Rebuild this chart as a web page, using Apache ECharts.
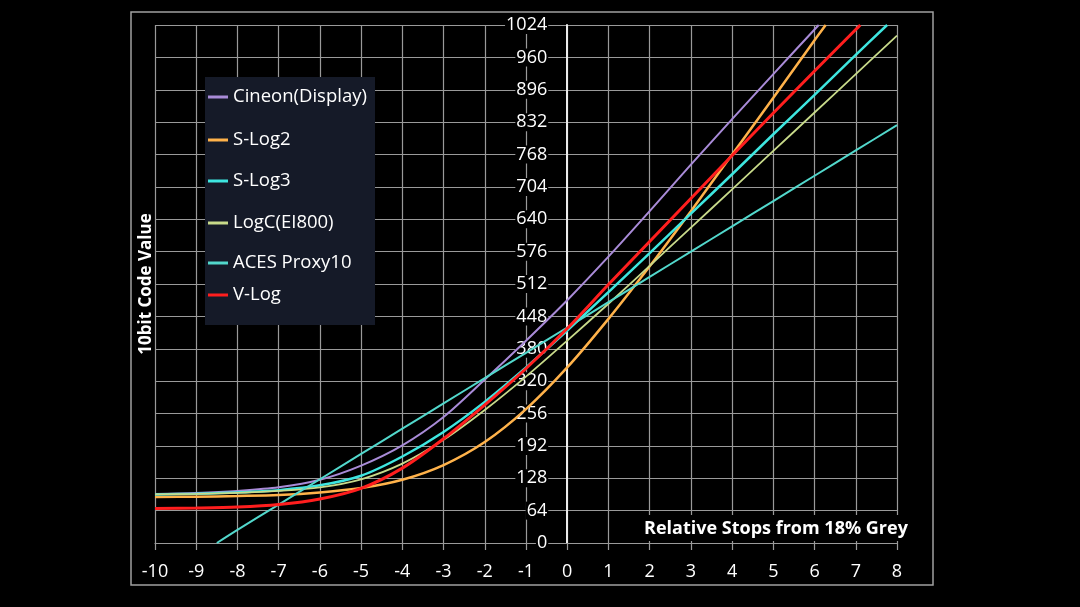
<!DOCTYPE html>
<html>
<head>
<meta charset="utf-8">
<style>
  html, body { margin: 0; padding: 0; background: #000; }
  #chart { width: 1080px; height: 607px; }
</style>
<script src="https://cdn.jsdelivr.net/npm/echarts@6/dist/echarts.min.js"></script>
</head>
<body>
<div id="chart"></div>
<script>
// stops relative to 18% grey
const stops = [-10, -9, -8, -7, -6, -5, -4, -3, -2, -1, 0, 1, 2, 3, 4, 5, 6, 7, 8];
const yLabels = ["0", "64", "128", "192", "256", "320", "380", "448", "512", "576", "640", "704", "768", "832", "896", "960", "1024"];

const names = ["Cineon(Display)", "S-Log2", "S-Log3", "LogC(EI800)", "ACES Proxy10", "V-Log"];

// 10bit code values per stop (null = not drawn there)
const cineon = [97, 99, 103, 110, 125, 153, 193, 249, 323, 400, 480, 566, 656, 748, 838, 927, 1015];
const cineonTop = [6.1, 1024];
const slog2 = [91, 91.5, 93, 95, 100, 108.6, 125, 154, 199.5, 264.6, 347, 443, 547, 656, 768, 880, 994];
const slog2Top = [6.27, 1024];
const slog3 = [96, 97.5, 100, 104.5, 114, 133, 171, 219.5, 279, 347, 420, 496, 573, 651, 729, 808, 886, 965];
const slog3Top = [7.76, 1024];
const logc = [96, 97, 99, 103, 110, 126, 157, 204, 263, 329, 400, 473, 548, 623.5, 699, 775, 851, 927, 1003];
const aces = [null, null, 26, 76, 126, 176, 226, 276, 326, 376, 426, 476, 526, 576, 626, 676, 726, 776, 826];
const acesStart = [-8.5, 0];
const vlog = [68, 69, 71, 76, 87, 108, 148, 206, 273, 345, 424, 511, 596, 681, 766, 850, 933, 1015];
const vlogTop = [7.11, 1024];

const colors = ["#a98bd8", "#ffb24a", "#3ee6e0", "#c8da8a", "#52d8cc", "#ff1e1e"];
const widths = [2, 2.5, 2.5, 1.8, 2, 3];
const legendTops = [97, 140, 181, 223, 263, 295];

function pts(vals, topPt, startPt) {
  const d = [];
  if (startPt) d.push(startPt);
  vals.forEach((v, i) => {
    if (v !== null) d.push([stops[i], v]);
  });
  if (topPt) d.push(topPt);
  return d;
}

const seriesData = [
  pts(cineon, cineonTop),
  pts(slog2, slog2Top),
  pts(slog3, slog3Top),
  pts(logc),
  pts(aces, null, acesStart),
  pts(vlog, vlogTop)
];

const font = "'Open Sans', 'Noto Sans', sans-serif";
const gridColor = "#9a9a9a";

// plot area
const gridLeft = 155, gridRight = 183, gridTop = 25, gridBottom = 64;
const plotW = 1080 - gridLeft - gridRight;
// y axis sits on stop 0
const zeroX = plotW * (0 - stops[0]) / (stops[stops.length - 1] - stops[0]);

const chart = echarts.init(document.getElementById("chart"));

chart.setOption({
  backgroundColor: "#000",
  animation: false,
  grid: { left: gridLeft, right: gridRight, top: gridTop, bottom: gridBottom },
  xAxis: {
    type: "value",
    min: -10,
    max: 8,
    interval: 1,
    axisLine: { show: true, onZero: false, lineStyle: { color: gridColor, width: 1.2 } },
    axisTick: { show: true, length: 7, lineStyle: { color: gridColor, width: 1.2 } },
    splitLine: { show: true, lineStyle: { color: gridColor, width: 1.2 } },
    axisLabel: { color: "#fff", fontSize: 18, fontFamily: font, margin: 20 }
  },
  yAxis: {
    type: "value",
    min: 0,
    max: 1024,
    interval: 64,
    offset: -zeroX,
    axisLine: { show: true, onZero: false, lineStyle: { color: "#ececec", width: 2 } },
    axisTick: { show: false },
    splitLine: { show: true, lineStyle: { color: gridColor, width: 1.2 } },
    axisLabel: {
      color: "#fff",
      fontSize: 18,
      fontFamily: font,
      margin: 19,
      backgroundColor: "#000",
      padding: [0, 1],
      formatter: (v) => yLabels[Math.round(v / 64)]
    }
  },
  legend: names.map((n, i) => ({
    data: [n],
    left: 208,
    top: legendTops[i] - 11,
    padding: 0,
    icon: "rect",
    itemWidth: 20,
    itemHeight: 3,
    selectedMode: false,
    z: 6,
    textStyle: { color: "#fff", fontSize: 18.5, fontFamily: font, lineHeight: 22 }
  })),
  graphic: [
    {
      type: "rect",
      z: 0,
      silent: true,
      shape: { x: 131, y: 12, width: 802, height: 573 },
      style: { fill: "none", stroke: "#a0a0a0", lineWidth: 1.5 }
    },
    {
      type: "rect",
      z: 4,
      silent: true,
      shape: { x: 205, y: 77, width: 170, height: 248 },
      style: { fill: "#151a28" }
    },
    {
      type: "rect",
      z: 4,
      silent: true,
      shape: { x: 638, y: 515, width: 274, height: 26 },
      style: { fill: "#000" }
    },
    {
      type: "text",
      z: 5,
      silent: true,
      x: 776,
      y: 529,
      style: {
        text: "Relative Stops from 18% Grey",
        fill: "#fff",
        font: "bold 18px " + font,
        align: "center",
        verticalAlign: "middle",
        textAlign: "center",
        textVerticalAlign: "middle"
      }
    },
    {
      type: "text",
      z: 5,
      silent: true,
      x: 146,
      y: 284,
      rotation: Math.PI / 2,
      style: {
        text: "10bit Code Value",
        fill: "#fff",
        font: "bold 17px " + font,
        align: "center",
        verticalAlign: "middle",
        textAlign: "center",
        textVerticalAlign: "middle"
      }
    }
  ],
  series: names.map((n, i) => ({
    name: n,
    type: "line",
    data: seriesData[i],
    showSymbol: false,
    symbol: "none",
    smooth: 0.3,
    color: colors[i],
    lineStyle: { color: colors[i], width: widths[i] },
    z: 2 + i * 0.1
  }))
});
</script>
</body>
</html>
